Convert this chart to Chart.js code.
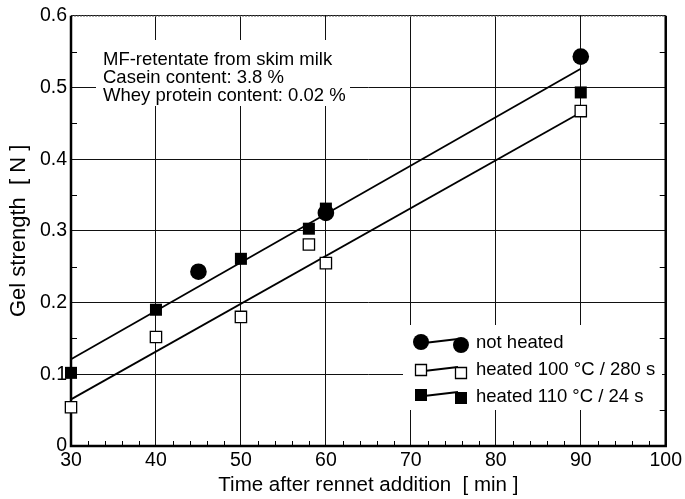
<!DOCTYPE html>
<html>
<head>
<meta charset="utf-8">
<script src="https://cdn.jsdelivr.net/npm/chart.js@4/dist/chart.umd.min.js"></script>
<style>
html,body{margin:0;padding:0;background:#fff;}
#wrap{width:685px;height:499px;}
</style>
</head>
<body>
<div id="wrap"><canvas id="c" width="685" height="499"></canvas></div>
<script>
// ---- data ----
const notHeatedX = [45, 60, 90];
const notHeatedY = [0.243, 0.325, 0.543];
const heated100X = [30, 40, 50, 58, 60, 90];
const heated100Y = [0.054, 0.152, 0.180, 0.281, 0.255, 0.467];
const heated110X = [30, 40, 50, 58, 60, 90];
const heated110Y = [0.102, 0.190, 0.261, 0.303, 0.331, 0.493];
const fitX = [30, 90];
const fitUpperY = [0.121, 0.526];
const fitLowerY = [0.065, 0.465];
const seriesNames = ['not heated', 'heated 100 °C / 280 s', 'heated 110 °C / 24 s'];
const noteLines = ['MF-retentate from skim milk', 'Casein content: 3.8 %', 'Whey protein content: 0.02 %'];
const xTitle = 'Time after rennet addition  [ min ]';
const yTitle = 'Gel strength  [ N ]';

const FONT = "'Liberation Sans', Arial, sans-serif";
const pts = (xs, ys) => xs.map((x, i) => ({x: x, y: ys[i]}));

const overlay = {
  id: 'overlay',
  beforeDatasetsDraw(chart) {
    const ctx = chart.ctx, a = chart.chartArea;
    const xs = chart.scales.x, ys = chart.scales.y;
    ctx.save();
    // white boxes behind note and legend
    ctx.fillStyle = '#fff';
    ctx.fillRect(96, 40, 254, 66);
    ctx.fillRect(403, 325, 259, 85);
    // minor ticks
    ctx.strokeStyle = '#000';
    ctx.lineWidth = 1;
    ctx.beginPath();
    for (let v = 32; v < 100; v += 2) {
      if (v % 10 === 0) continue;
      const px = Math.round(xs.getPixelForValue(v)) + 0.5;
      ctx.moveTo(px, a.bottom); ctx.lineTo(px, a.bottom - 5);
    }
    for (let k = 0; k < 6; k++) {
      const py = Math.round(ys.getPixelForValue(0.05 + k * 0.1)) + 0.5;
      ctx.moveTo(a.left, py); ctx.lineTo(a.left + 6, py);
      ctx.moveTo(a.right, py); ctx.lineTo(a.right - 6, py);
    }
    ctx.stroke();
    // borders
    ctx.strokeStyle = '#888';
    ctx.lineWidth = 1;
    ctx.setLineDash([2, 1]);
    ctx.beginPath(); ctx.moveTo(a.left, a.top + 0.5); ctx.lineTo(a.right, a.top + 0.5); ctx.stroke();
    ctx.setLineDash([]);
    ctx.strokeStyle = '#000';
    ctx.lineWidth = 2.5;
    ctx.beginPath();
    ctx.moveTo(a.left, a.top); ctx.lineTo(a.left, a.bottom); ctx.lineTo(a.right, a.bottom); ctx.lineTo(a.right, a.top);
    ctx.stroke();
    // note text
    ctx.fillStyle = '#000';
    ctx.font = '18.5px ' + FONT;
    ctx.textBaseline = 'alphabetic';
    ctx.textAlign = 'left';
    noteLines.forEach((t, i) => ctx.fillText(t, 103, 65 + i * 18));
    // legend
    const rows = [342, 370, 395];
    const drawMarker = (kind, x, y) => {
      ctx.beginPath();
      if (kind === 0) {
        ctx.arc(x, y, 8, 0, Math.PI * 2); ctx.fillStyle = '#000'; ctx.fill();
      } else if (kind === 1) {
        ctx.rect(x - 5.5, y - 5.5, 11, 11); ctx.fillStyle = '#fff'; ctx.fill();
        ctx.lineWidth = 1.3; ctx.strokeStyle = '#000'; ctx.stroke();
      } else {
        ctx.rect(x - 6, y - 6, 12, 12); ctx.fillStyle = '#000'; ctx.fill();
      }
    };
    seriesNames.forEach((name, i) => {
      const y = rows[i];
      ctx.strokeStyle = '#000'; ctx.lineWidth = 1.8;
      ctx.beginPath(); ctx.moveTo(424, y + 1); ctx.lineTo(458, y - 3); ctx.stroke();
      drawMarker(i, 421, y);
      drawMarker(i, 461, y + 3);
      ctx.fillStyle = '#000';
      ctx.font = '18.5px ' + FONT;
      ctx.textAlign = 'left';
      ctx.textBaseline = 'alphabetic';
      ctx.fillText(name, 476, [348, 375, 402][i]);
    });
    ctx.restore();
  }
};

new Chart(document.getElementById('c'), {
  type: 'scatter',
  data: {
    datasets: [
      {label: seriesNames[0], data: pts(notHeatedX, notHeatedY), pointStyle: 'circle', pointRadius: 8.3,
       backgroundColor: '#000', borderColor: '#000', borderWidth: 0, order: 0, clip: false},
      {label: seriesNames[1], data: pts(heated100X, heated100Y), pointStyle: 'rect', pointRadius: 8,
       backgroundColor: '#fff', borderColor: '#000', borderWidth: 1.3, order: 1, clip: false},
      {label: seriesNames[2], data: pts(heated110X, heated110Y), pointStyle: 'rect', pointRadius: 8.5,
       backgroundColor: '#000', borderColor: '#000', borderWidth: 0, order: 2, clip: false},
      {label: 'fit upper', data: pts(fitX, fitUpperY), showLine: true, pointRadius: 0,
       borderColor: '#000', borderWidth: 1.8, order: 3},
      {label: 'fit lower', data: pts(fitX, fitLowerY), showLine: true, pointRadius: 0,
       borderColor: '#000', borderWidth: 1.8, order: 3}
    ]
  },
  options: {
    responsive: false,
    animation: false,
    devicePixelRatio: 1,
    layout: {padding: {top: 15, right: 16, left: 0, bottom: 0}},
    plugins: {legend: {display: false}, tooltip: {enabled: false}},
    scales: {
      x: {
        type: 'linear', min: 30, max: 100,
        afterFit: s => { s.height = 53; },
        ticks: {stepSize: 10, color: '#000', font: {family: FONT, size: 19.5}, padding: 3, maxRotation: 0},
        grid: {color: '#111', lineWidth: 1, drawTicks: false},
        border: {display: false},
        title: {display: true, text: xTitle, color: '#000', font: {family: FONT, size: 20.5}, padding: {top: 0, bottom: 1}}
      },
      y: {
        min: 0, max: 0.6,
        afterFit: s => { s.width = 71; },
        ticks: {stepSize: 0.1, color: '#000', font: {family: FONT, size: 19.5}, padding: 4,
                callback: v => (Math.abs(v) < 1e-9 ? '0' : v.toFixed(1))},
        grid: {color: '#111', lineWidth: 1, drawTicks: false},
        border: {display: false},
        title: {display: true, text: yTitle, color: '#000', font: {family: FONT, size: 22}, padding: {top: 6, bottom: 0}}
      }
    }
  },
  plugins: [overlay]
});
</script>
</body>
</html>
